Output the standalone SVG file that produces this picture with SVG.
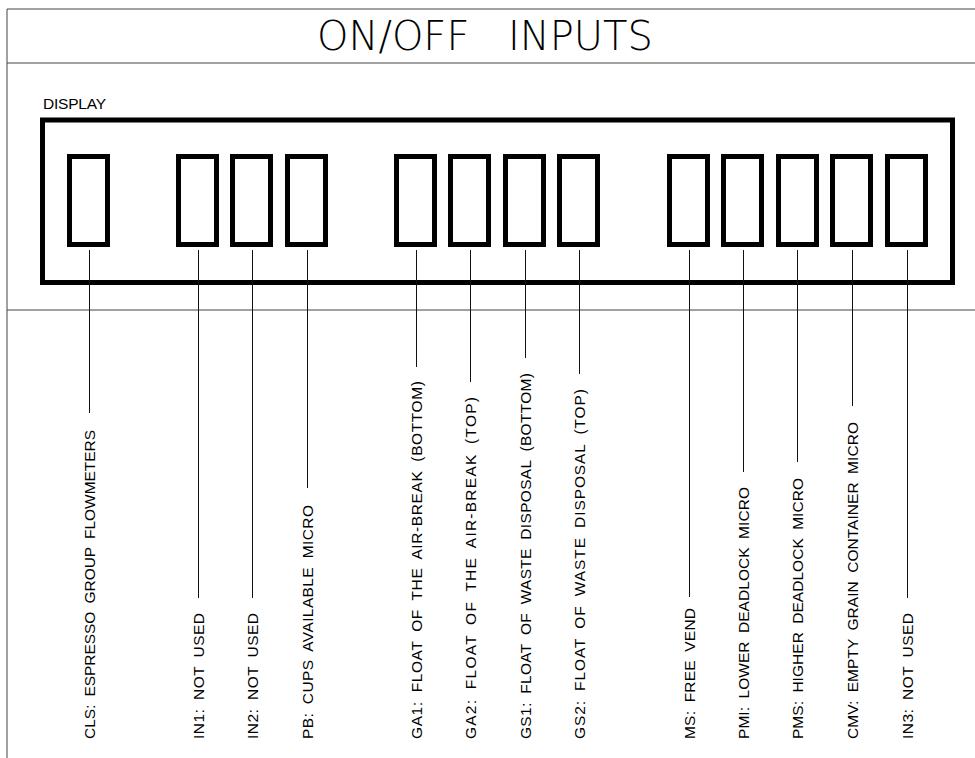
<svg xmlns="http://www.w3.org/2000/svg" width="975" height="758" viewBox="0 0 975 758">
<style>
.frame{stroke:#444;stroke-width:1;fill:none}
.box{stroke:#000;stroke-width:5;fill:none}
.seg{stroke:#000;stroke-width:5;fill:#fff}
.conn line{stroke:#111;stroke-width:1}
.lbl{font-family:"Liberation Sans",Arial,sans-serif;font-size:15.5px;fill:#000;word-spacing:4px}
.title{font-family:"DejaVu Sans","Liberation Sans",sans-serif;font-weight:200;font-size:40px;fill:#000}
</style>
<rect width="975" height="758" fill="#fff"/>
<g id="frame">
<line class="frame" x1="7" y1="9" x2="975" y2="9"/>
<line class="frame" x1="7" y1="9" x2="7" y2="758"/>
<line class="frame" x1="7" y1="63" x2="975" y2="63"/>
<line class="frame" x1="7" y1="310" x2="975" y2="310"/>
</g>
<g id="title"><text class="title" x="317" y="50">ON/OFF<tspan x="508">INPUTS</tspan></text></g>
<g id="display">
<text class="lbl" x="43" y="109" textLength="63">DISPLAY</text>
<rect class="box" x="42.5" y="120" width="910" height="162.5"/>
</g>
<g id="segments">
<rect id="s1" class="seg" x="69.5" y="156.5" width="38" height="88"/>
<rect id="s2" class="seg" x="178.5" y="156.5" width="38" height="88"/>
<rect id="s3" class="seg" x="232.5" y="156.5" width="38" height="88"/>
<rect id="s4" class="seg" x="287.5" y="156.5" width="38" height="88"/>
<rect id="s5" class="seg" x="396.5" y="156.5" width="38" height="88"/>
<rect id="s6" class="seg" x="450.5" y="156.5" width="38" height="88"/>
<rect id="s7" class="seg" x="505.5" y="156.5" width="38" height="88"/>
<rect id="s8" class="seg" x="559.5" y="156.5" width="38" height="88"/>
<rect id="s9" class="seg" x="669.5" y="156.5" width="38" height="88"/>
<rect id="s10" class="seg" x="723.5" y="156.5" width="38" height="88"/>
<rect id="s11" class="seg" x="778.5" y="156.5" width="38" height="88"/>
<rect id="s12" class="seg" x="832.5" y="156.5" width="38" height="88"/>
<rect id="s13" class="seg" x="887.5" y="156.5" width="38" height="88"/>
</g>
<g id="connectors" class="conn">
<line x1="89.5" y1="250" x2="89.5" y2="413"/>
<line x1="198.5" y1="250" x2="198.5" y2="598"/>
<line x1="252.5" y1="250" x2="252.5" y2="598"/>
<line x1="307.5" y1="250" x2="307.5" y2="488"/>
<line x1="416.5" y1="250" x2="416.5" y2="367"/>
<line x1="470.5" y1="250" x2="470.5" y2="382"/>
<line x1="525.5" y1="250" x2="525.5" y2="358"/>
<line x1="579.5" y1="250" x2="579.5" y2="374"/>
<line x1="689.5" y1="250" x2="689.5" y2="597"/>
<line x1="743.5" y1="250" x2="743.5" y2="472"/>
<line x1="797.5" y1="250" x2="797.5" y2="462"/>
<line x1="852.5" y1="250" x2="852.5" y2="406"/>
<line x1="907.5" y1="250" x2="907.5" y2="598"/>
</g>
<g id="labels">
<text class="lbl" transform="translate(94.5,739) rotate(-90)" textLength="309">CLS: ESPRESSO GROUP FLOWMETERS</text>
<text class="lbl" transform="translate(203.5,739) rotate(-90)" textLength="126">IN1: NOT USED</text>
<text class="lbl" transform="translate(257.5,739) rotate(-90)" textLength="126">IN2: NOT USED</text>
<text class="lbl" transform="translate(312.5,739) rotate(-90)" textLength="234">PB: CUPS AVAILABLE MICRO</text>
<text class="lbl" transform="translate(421.5,739) rotate(-90)" textLength="358">GA1: FLOAT OF THE AIR-BREAK (BOTTOM)</text>
<text class="lbl" transform="translate(475.5,739) rotate(-90)" textLength="342">GA2: FLOAT OF THE AIR-BREAK (TOP)</text>
<text class="lbl" transform="translate(530.5,739) rotate(-90)" textLength="366">GS1: FLOAT OF WASTE DISPOSAL (BOTTOM)</text>
<text class="lbl" transform="translate(584.5,739) rotate(-90)" textLength="350">GS2: FLOAT OF WASTE DISPOSAL (TOP)</text>
<text class="lbl" transform="translate(694.5,739) rotate(-90)" textLength="131">MS: FREE VEND</text>
<text class="lbl" transform="translate(748.5,739) rotate(-90)" textLength="252">PMI: LOWER DEADLOCK MICRO</text>
<text class="lbl" transform="translate(802.5,739) rotate(-90)" textLength="261">PMS: HIGHER DEADLOCK MICRO</text>
<text class="lbl" transform="translate(857.5,739) rotate(-90)" textLength="317">CMV: EMPTY GRAIN CONTAINER MICRO</text>
<text class="lbl" transform="translate(912.5,739) rotate(-90)" textLength="126">IN3: NOT USED</text>
</g>
</svg>
